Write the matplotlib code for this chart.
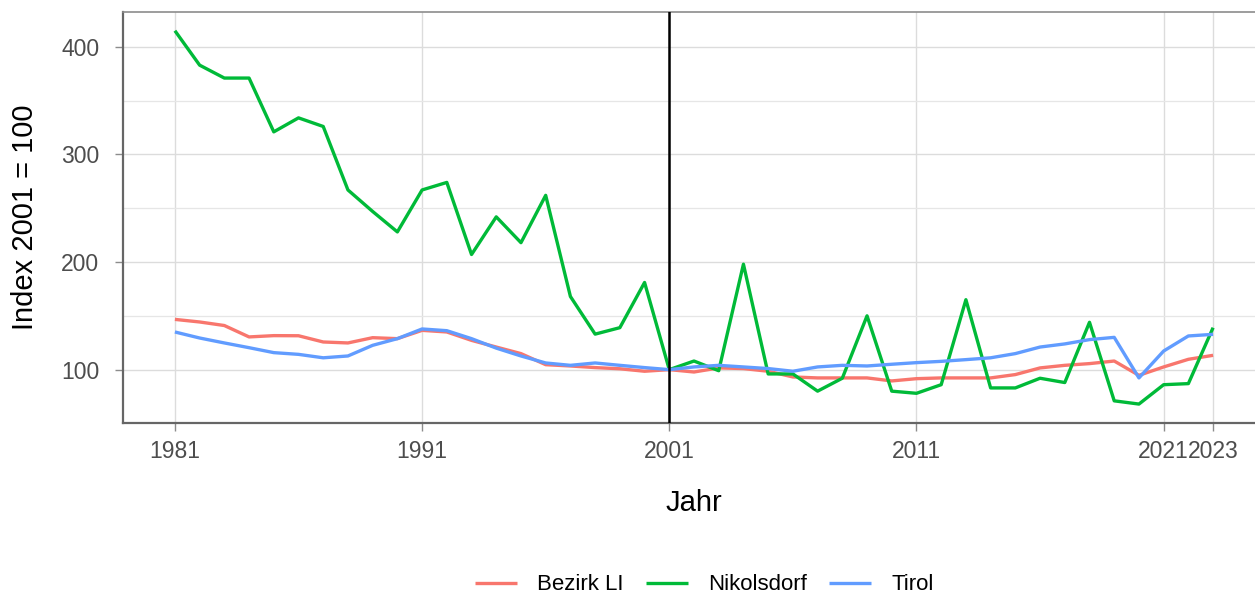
import numpy as np
import matplotlib
matplotlib.use("Agg")
import matplotlib.pyplot as plt

plt.rcParams['font.family'] = ['Liberation Sans', 'DejaVu Sans']

# values (index, 2001 = 100)
years = list(range(1981, 2024))

bezirk_li = [146.7, 144.3, 141.0, 130.4, 131.6, 131.5, 125.7, 124.8, 129.7, 128.8,
             136.5, 135.0, 127.2, 121.0, 114.9, 104.6, 103.4, 101.9, 100.8, 98.5,
             100.0, 97.8, 101.6, 101.0, 98.5, 93.2, 92.3, 92.3, 92.3, 89.5,
             91.6, 92.3, 92.3, 92.3, 95.4, 101.6, 104.0, 105.6, 108.0, 94.7,
             102.5, 109.6, 113.3]

nikolsdorf = [415, 383, 371, 371, 321, 334, 326, 267, 247, 228,
              267, 274, 207, 242, 218, 262, 168, 133, 139, 181,
              100, 108, 99, 198, 96, 96, 80, 92, 150, 80,
              78, 86, 165, 83, 83, 92, 88, 144, 71, 68,
              86, 87, 139]

tirol = [135.0, 129.4, 124.8, 120.4, 115.8, 114.2, 111.0, 112.7, 122.6, 128.8,
         137.8, 136.2, 128.8, 120.0, 112.7, 106.2, 104.0, 106.2, 104.0, 101.9,
         100.0, 102.5, 104.0, 102.5, 101.0, 98.5, 102.5, 104.0, 103.4, 105.0,
         106.5, 107.7, 109.3, 111.0, 114.9, 121.0, 123.9, 127.9, 130.0, 92.3,
         117.3, 131.3, 132.8]

series_names = ['Bezirk LI', 'Nikolsdorf', 'Tirol']
series_colors = ['#F8766D', '#00BA38', '#619CFF']

x_breaks = [1981, 1991, 2001, 2011, 2021, 2023]
y_breaks = [100, 200, 300, 400]
y_minor = [150, 250, 350]

fig = plt.figure(figsize=(12.55, 5.97), dpi=100)
ax = fig.add_axes([123 / 1255, 1 - 423 / 597, 1142 / 1255, 411 / 597])

for name, vals, col in zip(series_names, [bezirk_li, nikolsdorf, tirol], series_colors):
    ax.plot(years, vals, color=col, lw=2.4, label=name, solid_capstyle='butt', zorder=3)

ax.axvline(2001, color='black', lw=1.8, zorder=4)

ax.set_xlim(1978.9, 2025.1)
ax.set_ylim(50.4, 432.4)
ax.set_xticks(x_breaks)
ax.set_xticklabels([str(v) for v in x_breaks])
ax.set_yticks(y_breaks)
ax.set_yticks(y_minor, minor=True)

ax.grid(which='major', color='#DCDCDC', lw=1.0, zorder=0)
ax.grid(which='minor', axis='y', color='#E6E6E6', lw=0.9, zorder=0)
ax.set_axisbelow(True)

ax.tick_params(which='major', length=6, width=1.0, color='#8C8C8C',
               labelsize=16.5, labelcolor='#4D4D4D')
ax.tick_params(axis='x', pad=6)
ax.tick_params(axis='y', pad=11)
ax.tick_params(which='minor', length=0)

for s in ['left', 'bottom']:
    ax.spines[s].set_color('#666666')
    ax.spines[s].set_linewidth(1.6)
ax.spines['top'].set_color('#8C8C8C')
ax.spines['top'].set_linewidth(1.2)
ax.spines['right'].set_visible(False)

ax.set_xlabel('Jahr', fontsize=21, labelpad=19)
ax.set_ylabel('Index 2001 = 100', fontsize=21, labelpad=16)

fig.legend(loc='center', bbox_to_anchor=(704 / 1255, 1 - 585 / 597), ncol=3,
           frameon=False, fontsize=16, handlelength=1.9, handletextpad=0.9,
           columnspacing=1.0)

fig.savefig('out.png', dpi=100)
